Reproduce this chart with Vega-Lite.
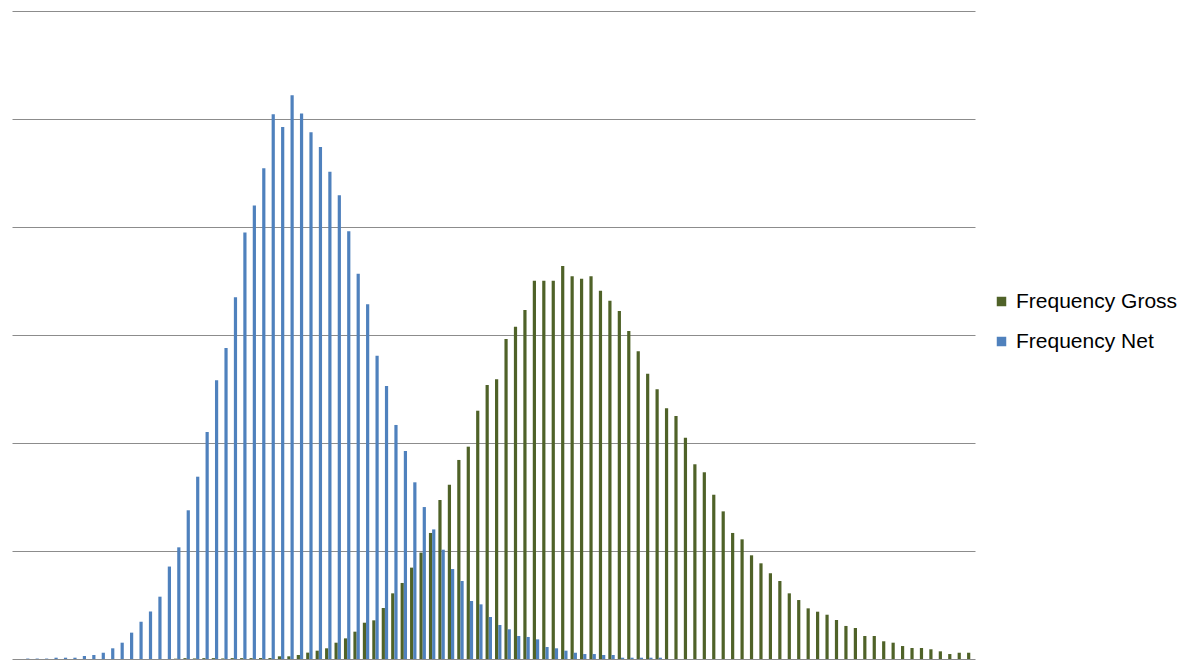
{
  "$schema": "https://vega.github.io/schema/vega-lite/v6.json",
  "width": 963,
  "height": 648,
  "autosize": {"type": "none"},
  "padding": {"left": 12, "top": 11, "right": 226, "bottom": 1},
  "background": "white",
  "config": {"view": {"stroke": null}},
  "data": {"values": [
    {"bin":0,"series":"Frequency Gross","value":0},{"bin":0,"series":"Frequency Net","value":0},
    {"bin":1,"series":"Frequency Gross","value":0},{"bin":1,"series":"Frequency Net","value":0.4},
    {"bin":2,"series":"Frequency Gross","value":0},{"bin":2,"series":"Frequency Net","value":0.4},
    {"bin":3,"series":"Frequency Gross","value":0},{"bin":3,"series":"Frequency Net","value":0.4},
    {"bin":4,"series":"Frequency Gross","value":0},{"bin":4,"series":"Frequency Net","value":1.2},
    {"bin":5,"series":"Frequency Gross","value":0},{"bin":5,"series":"Frequency Net","value":1.2},
    {"bin":6,"series":"Frequency Gross","value":0},{"bin":6,"series":"Frequency Net","value":1.2},
    {"bin":7,"series":"Frequency Gross","value":0},{"bin":7,"series":"Frequency Net","value":2.8},
    {"bin":8,"series":"Frequency Gross","value":0},{"bin":8,"series":"Frequency Net","value":3.7},
    {"bin":9,"series":"Frequency Gross","value":0},{"bin":9,"series":"Frequency Net","value":5.8},
    {"bin":10,"series":"Frequency Gross","value":0},{"bin":10,"series":"Frequency Net","value":9.9},
    {"bin":11,"series":"Frequency Gross","value":0},{"bin":11,"series":"Frequency Net","value":15.1},
    {"bin":12,"series":"Frequency Gross","value":0},{"bin":12,"series":"Frequency Net","value":24.4},
    {"bin":13,"series":"Frequency Gross","value":0},{"bin":13,"series":"Frequency Net","value":34.5},
    {"bin":14,"series":"Frequency Gross","value":0},{"bin":14,"series":"Frequency Net","value":44},
    {"bin":15,"series":"Frequency Gross","value":0},{"bin":15,"series":"Frequency Net","value":57.7},
    {"bin":16,"series":"Frequency Gross","value":0},{"bin":16,"series":"Frequency Net","value":85.6},
    {"bin":17,"series":"Frequency Gross","value":0.3},{"bin":17,"series":"Frequency Net","value":103.4},
    {"bin":18,"series":"Frequency Gross","value":0.8},{"bin":18,"series":"Frequency Net","value":137.7},
    {"bin":19,"series":"Frequency Gross","value":0.5},{"bin":19,"series":"Frequency Net","value":168.8},
    {"bin":20,"series":"Frequency Gross","value":0.8},{"bin":20,"series":"Frequency Net","value":210.2},
    {"bin":21,"series":"Frequency Gross","value":0.8},{"bin":21,"series":"Frequency Net","value":258},
    {"bin":22,"series":"Frequency Gross","value":0.5},{"bin":22,"series":"Frequency Net","value":288},
    {"bin":23,"series":"Frequency Gross","value":0.8},{"bin":23,"series":"Frequency Net","value":334.9},
    {"bin":24,"series":"Frequency Gross","value":0.8},{"bin":24,"series":"Frequency Net","value":395},
    {"bin":25,"series":"Frequency Gross","value":0.8},{"bin":25,"series":"Frequency Net","value":420},
    {"bin":26,"series":"Frequency Gross","value":0.9},{"bin":26,"series":"Frequency Net","value":454.3},
    {"bin":27,"series":"Frequency Gross","value":0.9},{"bin":27,"series":"Frequency Net","value":504.3},
    {"bin":28,"series":"Frequency Gross","value":2.5},{"bin":28,"series":"Frequency Net","value":492.6},
    {"bin":29,"series":"Frequency Gross","value":2.5},{"bin":29,"series":"Frequency Net","value":521.9},
    {"bin":30,"series":"Frequency Gross","value":3.7},{"bin":30,"series":"Frequency Net","value":505.2},
    {"bin":31,"series":"Frequency Gross","value":5.9},{"bin":31,"series":"Frequency Net","value":487.7},
    {"bin":32,"series":"Frequency Gross","value":7.7},{"bin":32,"series":"Frequency Net","value":474},
    {"bin":33,"series":"Frequency Gross","value":9.9},{"bin":33,"series":"Frequency Net","value":451.2},
    {"bin":34,"series":"Frequency Gross","value":15.1},{"bin":34,"series":"Frequency Net","value":429.3},
    {"bin":35,"series":"Frequency Gross","value":19.1},{"bin":35,"series":"Frequency Net","value":396},
    {"bin":36,"series":"Frequency Gross","value":25.3},{"bin":36,"series":"Frequency Net","value":356.8},
    {"bin":37,"series":"Frequency Gross","value":33.6},{"bin":37,"series":"Frequency Net","value":328.4},
    {"bin":38,"series":"Frequency Gross","value":35.8},{"bin":38,"series":"Frequency Net","value":280.8},
    {"bin":39,"series":"Frequency Gross","value":47.2},{"bin":39,"series":"Frequency Net","value":252.8},
    {"bin":40,"series":"Frequency Gross","value":60.8},{"bin":40,"series":"Frequency Net","value":216.7},
    {"bin":41,"series":"Frequency Gross","value":70.4},{"bin":41,"series":"Frequency Net","value":192.6},
    {"bin":42,"series":"Frequency Gross","value":84.6},{"bin":42,"series":"Frequency Net","value":163.6},
    {"bin":43,"series":"Frequency Gross","value":98.5},{"bin":43,"series":"Frequency Net","value":140.7},
    {"bin":44,"series":"Frequency Gross","value":116.7},{"bin":44,"series":"Frequency Net","value":120},
    {"bin":45,"series":"Frequency Gross","value":147.2},{"bin":45,"series":"Frequency Net","value":101.2},
    {"bin":46,"series":"Frequency Gross","value":161.4},{"bin":46,"series":"Frequency Net","value":83.3},
    {"bin":47,"series":"Frequency Gross","value":184.3},{"bin":47,"series":"Frequency Net","value":72.2},
    {"bin":48,"series":"Frequency Gross","value":196.6},{"bin":48,"series":"Frequency Net","value":53.7},
    {"bin":49,"series":"Frequency Gross","value":229.9},{"bin":49,"series":"Frequency Net","value":50.6},
    {"bin":50,"series":"Frequency Gross","value":253.7},{"bin":50,"series":"Frequency Net","value":38.9},
    {"bin":51,"series":"Frequency Gross","value":259},{"bin":51,"series":"Frequency Net","value":31.5},
    {"bin":52,"series":"Frequency Gross","value":296.3},{"bin":52,"series":"Frequency Net","value":27.5},
    {"bin":53,"series":"Frequency Gross","value":307.7},{"bin":53,"series":"Frequency Net","value":21.3},
    {"bin":54,"series":"Frequency Gross","value":323.1},{"bin":54,"series":"Frequency Net","value":20.4},
    {"bin":55,"series":"Frequency Gross","value":350.3},{"bin":55,"series":"Frequency Net","value":18.2},
    {"bin":56,"series":"Frequency Gross","value":350.3},{"bin":56,"series":"Frequency Net","value":11.1},
    {"bin":57,"series":"Frequency Gross","value":350.3},{"bin":57,"series":"Frequency Net","value":9.9},
    {"bin":58,"series":"Frequency Gross","value":363.9},{"bin":58,"series":"Frequency Net","value":7.7},
    {"bin":59,"series":"Frequency Gross","value":354.3},{"bin":59,"series":"Frequency Net","value":5.8},
    {"bin":60,"series":"Frequency Gross","value":352.1},{"bin":60,"series":"Frequency Net","value":4.6},
    {"bin":61,"series":"Frequency Gross","value":354.3},{"bin":61,"series":"Frequency Net","value":4.6},
    {"bin":62,"series":"Frequency Gross","value":341},{"bin":62,"series":"Frequency Net","value":3.7},
    {"bin":63,"series":"Frequency Gross","value":331.8},{"bin":63,"series":"Frequency Net","value":3.7},
    {"bin":64,"series":"Frequency Gross","value":322.2},{"bin":64,"series":"Frequency Net","value":1.2},
    {"bin":65,"series":"Frequency Gross","value":303.7},{"bin":65,"series":"Frequency Net","value":1.2},
    {"bin":66,"series":"Frequency Gross","value":284.9},{"bin":66,"series":"Frequency Net","value":1.2},
    {"bin":67,"series":"Frequency Gross","value":264.2},{"bin":67,"series":"Frequency Net","value":1.2},
    {"bin":68,"series":"Frequency Gross","value":249.7},{"bin":68,"series":"Frequency Net","value":1.2},
    {"bin":69,"series":"Frequency Gross","value":232.1},{"bin":69,"series":"Frequency Net","value":0},
    {"bin":70,"series":"Frequency Gross","value":225},{"bin":70,"series":"Frequency Net","value":0},
    {"bin":71,"series":"Frequency Gross","value":204.9},{"bin":71,"series":"Frequency Net","value":0},
    {"bin":72,"series":"Frequency Gross","value":180.3},{"bin":72,"series":"Frequency Net","value":0},
    {"bin":73,"series":"Frequency Gross","value":172.9},{"bin":73,"series":"Frequency Net","value":0},
    {"bin":74,"series":"Frequency Gross","value":152.1},{"bin":74,"series":"Frequency Net","value":0},
    {"bin":75,"series":"Frequency Gross","value":136.7},{"bin":75,"series":"Frequency Net","value":0},
    {"bin":76,"series":"Frequency Gross","value":116.7},{"bin":76,"series":"Frequency Net","value":0},
    {"bin":77,"series":"Frequency Gross","value":110.8},{"bin":77,"series":"Frequency Net","value":0},
    {"bin":78,"series":"Frequency Gross","value":96},{"bin":78,"series":"Frequency Net","value":0},
    {"bin":79,"series":"Frequency Gross","value":88.6},{"bin":79,"series":"Frequency Net","value":0},
    {"bin":80,"series":"Frequency Gross","value":79.4},{"bin":80,"series":"Frequency Net","value":0},
    {"bin":81,"series":"Frequency Gross","value":72.2},{"bin":81,"series":"Frequency Net","value":0},
    {"bin":82,"series":"Frequency Gross","value":60.8},{"bin":82,"series":"Frequency Net","value":0},
    {"bin":83,"series":"Frequency Gross","value":54.6},{"bin":83,"series":"Frequency Net","value":0},
    {"bin":84,"series":"Frequency Gross","value":46.9},{"bin":84,"series":"Frequency Net","value":0},
    {"bin":85,"series":"Frequency Gross","value":43.8},{"bin":85,"series":"Frequency Net","value":0},
    {"bin":86,"series":"Frequency Gross","value":41},{"bin":86,"series":"Frequency Net","value":0},
    {"bin":87,"series":"Frequency Gross","value":36.1},{"bin":87,"series":"Frequency Net","value":0},
    {"bin":88,"series":"Frequency Gross","value":30.6},{"bin":88,"series":"Frequency Net","value":0},
    {"bin":89,"series":"Frequency Gross","value":28.7},{"bin":89,"series":"Frequency Net","value":0},
    {"bin":90,"series":"Frequency Gross","value":21.3},{"bin":90,"series":"Frequency Net","value":0},
    {"bin":91,"series":"Frequency Gross","value":21.3},{"bin":91,"series":"Frequency Net","value":0},
    {"bin":92,"series":"Frequency Gross","value":16.4},{"bin":92,"series":"Frequency Net","value":0},
    {"bin":93,"series":"Frequency Gross","value":15.1},{"bin":93,"series":"Frequency Net","value":0},
    {"bin":94,"series":"Frequency Gross","value":12},{"bin":94,"series":"Frequency Net","value":0},
    {"bin":95,"series":"Frequency Gross","value":10.2},{"bin":95,"series":"Frequency Net","value":0},
    {"bin":96,"series":"Frequency Gross","value":10.2},{"bin":96,"series":"Frequency Net","value":0},
    {"bin":97,"series":"Frequency Gross","value":9},{"bin":97,"series":"Frequency Net","value":0},
    {"bin":98,"series":"Frequency Gross","value":7.1},{"bin":98,"series":"Frequency Net","value":0},
    {"bin":99,"series":"Frequency Gross","value":4.6},{"bin":99,"series":"Frequency Net","value":0},
    {"bin":100,"series":"Frequency Gross","value":5.8},{"bin":100,"series":"Frequency Net","value":0},
    {"bin":101,"series":"Frequency Gross","value":5.8},{"bin":101,"series":"Frequency Net","value":0}
  ]},
  "mark": {"type": "bar"},
  "encoding": {
    "x": {
      "field": "bin",
      "type": "ordinal",
      "scale": {"paddingInner": 0.32, "paddingOuter": 0.16},
      "axis": null
    },
    "xOffset": {
      "field": "series",
      "type": "nominal",
      "sort": ["Frequency Gross", "Frequency Net"]
    },
    "y": {
      "field": "value",
      "type": "quantitative",
      "scale": {"domain": [0, 600], "nice": false},
      "axis": {
        "title": null,
        "labels": false,
        "ticks": false,
        "domain": false,
        "grid": true,
        "gridColor": "#8c8c8c",
        "gridWidth": 1,
        "values": [0, 100, 200, 300, 400, 500, 600]
      }
    },
    "color": {
      "field": "series",
      "type": "nominal",
      "scale": {
        "domain": ["Frequency Gross", "Frequency Net"],
        "range": ["#4F6228", "#4F81BD"]
      },
      "legend": {
        "title": null,
        "orient": "none",
        "legendX": 979,
        "legendY": 280,
        "padding": 0,
        "symbolType": "square",
        "symbolSize": 90,
        "symbolStrokeWidth": 0,
        "labelFont": "Liberation Sans",
        "labelFontSize": 21,
        "labelColor": "#000000",
        "labelOffset": 4,
        "labelLimit": 300,
        "rowPadding": 18
      }
    }
  }
}
